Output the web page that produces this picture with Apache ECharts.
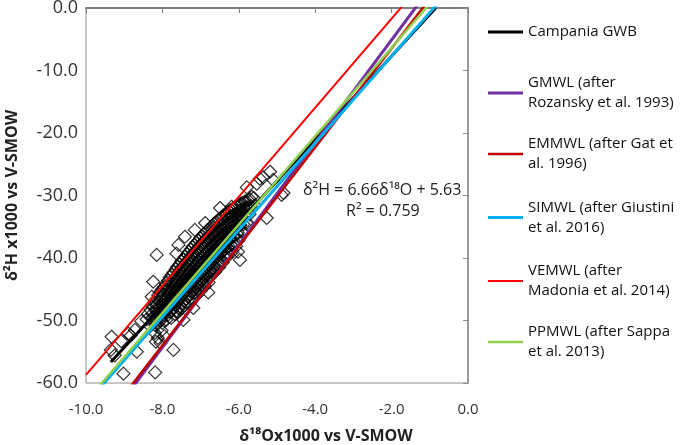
<!DOCTYPE html>
<html><head><meta charset="utf-8">
<script src="https://cdn.jsdelivr.net/npm/echarts@6/dist/echarts.min.js"></script>
<style>html,body{margin:0;padding:0;background:#fff}#c{width:685px;height:445px}</style>
</head><body><div id="c"></div>
<script>
// Sample points [δ18O, δ2H]
const samplePoints = [
 // sparse / outlying samples
 [-9.33,-52.6],[-9.35,-54.7],[-9.25,-55.6],[-9.02,-58.5],[-8.89,-52.1],[-8.83,-52.4],[-8.72,-51.5],[-8.67,-55.0],
 [-8.19,-58.3],[-8.15,-39.5],[-8.24,-43.8],[-8.28,-46.2],[-8.37,-48.9],[-7.71,-54.7],[-8.2,-52.0],[-8.12,-52.8],
 [-8.05,-53.6],[-7.95,-52.5],[-8.17,-53.4],[-8.02,-51.6],[-7.63,-39.3],[-7.45,-49.9],[-7.19,-48.0],[-6.80,-45.5],
 [-5.97,-40.3],[-6.02,-39.0],[-5.18,-26.2],[-5.36,-27.1],[-5.10,-27.5],[-4.88,-29.9],[-5.53,-28.1],[-5.79,-28.7],
 [-5.66,-30.2],[-5.27,-33.6],[-5.75,-34.7],[-5.45,-27.3],[-4.83,-29.6],[-9.08,-53.3],[-8.55,-50.1],
 [-7.15,-35.5],[-7.41,-36.6],[-7.58,-37.9],[-6.88,-34.4],[-6.49,-32.0],[-6.19,-31.8],[-8.41,-49.8],
 // dense cloud
 [-8.31,-48.3],[-8.28,-49.6],[-8.32,-50.9],
 [-8.21,-47.1],[-8.19,-48.3],[-8.22,-49.5],[-8.18,-50.8],
 [-8.11,-45.9],[-8.09,-47.0],[-8.12,-48.2],[-8.08,-49.4],[-8.13,-50.6],
 [-8.01,-45.0],[-7.99,-46.1],[-8.02,-47.3],[-7.98,-48.4],[-8.03,-49.5],[-8.0,-50.4],
 [-7.91,-44.1],[-7.89,-45.2],[-7.92,-46.4],[-7.88,-47.5],[-7.93,-48.7],[-7.9,-49.9],
 [-7.81,-43.1],[-7.79,-44.2],[-7.82,-45.3],[-7.78,-46.5],[-7.83,-47.6],[-7.8,-48.6],[-7.77,-49.6],
 [-7.71,-42.3],[-7.69,-43.4],[-7.72,-44.5],[-7.68,-45.6],[-7.73,-46.7],[-7.7,-47.9],[-7.67,-49.0],
 [-7.61,-41.4],[-7.59,-42.5],[-7.62,-43.6],[-7.58,-44.8],[-7.63,-45.9],[-7.6,-47.0],[-7.57,-48.1],[-7.62,-48.7],
 [-7.51,-40.5],[-7.49,-41.6],[-7.52,-42.7],[-7.48,-43.8],[-7.53,-45.0],[-7.5,-46.1],[-7.47,-47.2],[-7.52,-48.2],
 [-7.41,-39.8],[-7.39,-40.9],[-7.42,-42.0],[-7.38,-43.1],[-7.43,-44.2],[-7.4,-45.3],[-7.37,-46.5],[-7.42,-47.6],
 [-7.31,-39.0],[-7.29,-40.1],[-7.32,-41.2],[-7.28,-42.3],[-7.33,-43.4],[-7.3,-44.6],[-7.27,-45.8],[-7.32,-47.0],
 [-7.21,-38.2],[-7.19,-39.3],[-7.22,-40.4],[-7.18,-41.6],[-7.23,-42.7],[-7.2,-43.8],[-7.17,-45.0],[-7.22,-46.4],
 [-7.11,-37.5],[-7.09,-38.6],[-7.12,-39.7],[-7.08,-40.9],[-7.13,-42.0],[-7.1,-43.1],[-7.07,-44.3],[-7.12,-45.4],[-7.09,-45.9],
 [-7.01,-36.8],[-6.99,-37.9],[-7.02,-39.0],[-6.98,-40.2],[-7.03,-41.3],[-7.0,-42.4],[-6.97,-43.6],[-7.02,-44.7],[-6.99,-45.2],
 [-6.91,-36.1],[-6.89,-37.2],[-6.92,-38.3],[-6.88,-39.5],[-6.93,-40.6],[-6.9,-41.7],[-6.87,-42.9],[-6.92,-44.0],[-6.89,-44.5],
 [-6.81,-35.5],[-6.79,-36.6],[-6.82,-37.7],[-6.78,-38.9],[-6.83,-40.0],[-6.8,-41.1],[-6.77,-42.3],[-6.82,-43.4],[-6.79,-43.9],
 [-6.71,-34.9],[-6.69,-36.0],[-6.72,-37.1],[-6.68,-38.3],[-6.73,-39.4],[-6.7,-40.5],[-6.67,-41.7],[-6.72,-42.8],
 [-6.61,-34.3],[-6.59,-35.4],[-6.62,-36.5],[-6.58,-37.7],[-6.63,-38.8],[-6.6,-39.9],[-6.57,-41.1],[-6.62,-42.2],
 [-6.51,-33.8],[-6.49,-34.9],[-6.52,-36.0],[-6.48,-37.2],[-6.53,-38.3],[-6.5,-39.4],[-6.47,-40.6],[-6.52,-41.5],
 [-6.41,-33.2],[-6.39,-34.3],[-6.42,-35.4],[-6.38,-36.6],[-6.43,-37.7],[-6.4,-38.8],[-6.37,-39.9],[-6.42,-40.7],
 [-6.31,-32.7],[-6.29,-33.8],[-6.32,-34.9],[-6.28,-36.1],[-6.33,-37.2],[-6.3,-38.3],[-6.27,-39.3],[-6.32,-39.9],
 [-6.21,-32.3],[-6.19,-33.4],[-6.22,-34.5],[-6.18,-35.7],[-6.23,-36.8],[-6.2,-37.9],[-6.17,-39.0],
 [-6.11,-31.9],[-6.09,-33.0],[-6.12,-34.1],[-6.08,-35.3],[-6.13,-36.4],[-6.1,-37.5],[-6.07,-38.1],
 [-6.01,-31.4],[-5.99,-32.5],[-6.02,-33.6],[-5.98,-34.8],[-6.03,-35.9],[-6.0,-37.1],
 [-5.91,-31.2],[-5.89,-32.3],[-5.92,-33.4],[-5.88,-34.6],[-5.93,-35.8],
 [-5.81,-30.9],[-5.79,-32.0],[-5.82,-33.1],[-5.78,-34.3],
 [-5.71,-30.6],[-5.69,-31.7],[-5.72,-33.0],
 [-5.61,-30.4],[-5.59,-31.6],
 // more samples inside the cloud
 [-8.25,-47.7],[-8.26,-48.9],[-8.24,-50.1],
 [-8.15,-46.5],[-8.16,-47.6],[-8.14,-48.8],[-8.16,-50.0],
 [-8.05,-45.4],[-8.06,-46.5],[-8.04,-47.7],[-8.06,-48.9],[-8.04,-50.0],
 [-7.95,-44.6],[-7.96,-45.7],[-7.94,-46.9],[-7.96,-48.0],[-7.94,-49.2],
 [-7.85,-43.6],[-7.86,-44.7],[-7.84,-45.9],[-7.86,-47.0],[-7.84,-48.1],[-7.86,-49.1],
 [-7.75,-42.7],[-7.76,-43.8],[-7.74,-45.0],[-7.76,-46.1],[-7.74,-47.3],[-7.76,-48.4],
 [-7.65,-41.8],[-7.66,-43.0],[-7.64,-44.1],[-7.66,-45.2],[-7.64,-46.4],[-7.66,-47.5],[-7.64,-48.5],
 [-7.55,-41.0],[-7.56,-42.1],[-7.54,-43.2],[-7.56,-44.4],[-7.54,-45.5],[-7.56,-46.6],[-7.54,-47.7],
 [-7.45,-40.2],[-7.46,-41.3],[-7.44,-42.4],[-7.46,-43.5],[-7.44,-44.7],[-7.46,-45.8],[-7.44,-46.9],
 [-7.35,-39.4],[-7.36,-40.5],[-7.34,-41.7],[-7.36,-42.8],[-7.34,-43.9],[-7.36,-45.1],[-7.34,-46.2],
 [-7.25,-38.6],[-7.26,-39.7],[-7.24,-40.8],[-7.26,-42.0],[-7.24,-43.1],[-7.26,-44.2],[-7.24,-45.5],
 [-7.15,-37.9],[-7.16,-39.0],[-7.14,-40.1],[-7.16,-41.2],[-7.14,-42.4],[-7.16,-43.5],[-7.14,-44.7],[-7.16,-45.6],
 [-7.05,-37.2],[-7.06,-38.3],[-7.04,-39.4],[-7.06,-40.5],[-7.04,-41.7],[-7.06,-42.8],[-7.04,-44.0],[-7.06,-45.0],
 [-6.95,-36.5],[-6.96,-37.6],[-6.94,-38.7],[-6.96,-39.9],[-6.94,-41.0],[-6.96,-42.1],[-6.94,-43.3],[-6.96,-44.3],
 [-6.85,-35.8],[-6.86,-36.9],[-6.84,-38.0],[-6.86,-39.2],[-6.84,-40.3],[-6.86,-41.4],[-6.84,-42.6],[-6.86,-43.6],
 [-6.75,-35.2],[-6.76,-36.3],[-6.74,-37.4],[-6.76,-38.6],[-6.74,-39.7],[-6.76,-40.8],[-6.74,-42.0],[-6.76,-43.1],
 [-6.65,-34.6],[-6.66,-35.7],[-6.64,-36.8],[-6.66,-38.0],[-6.64,-39.1],[-6.66,-40.2],[-6.64,-41.4],[-6.66,-42.4],
 [-6.55,-34.0],[-6.56,-35.1],[-6.54,-36.3],[-6.56,-37.4],[-6.54,-38.5],[-6.56,-39.7],[-6.54,-40.8],
 [-6.45,-33.5],[-6.46,-34.6],[-6.44,-35.7],[-6.46,-36.9],[-6.44,-38.0],[-6.46,-39.1],[-6.44,-40.3],
 [-6.35,-33.0],[-6.36,-34.1],[-6.34,-35.2],[-6.36,-36.4],[-6.34,-37.5],[-6.36,-38.6],[-6.34,-39.6],
 [-6.25,-32.5],[-6.26,-33.6],[-6.24,-34.7],[-6.26,-35.9],[-6.24,-37.0],[-6.26,-38.1],
 [-6.15,-32.1],[-6.16,-33.2],[-6.14,-34.3],[-6.16,-35.5],[-6.14,-36.6],[-6.16,-37.7],
 [-6.05,-31.7],[-6.06,-32.8],[-6.04,-33.9],[-6.06,-35.0],[-6.04,-36.2],
 [-5.95,-31.3],[-5.96,-32.4],[-5.94,-33.5],[-5.96,-34.7],
 [-5.85,-31.0],[-5.86,-32.1],[-5.84,-33.3],
 [-5.75,-30.8],[-5.76,-31.9]
];
// Water lines: δ2H = slope·δ18O + intercept, drawn over an x-range
const lineNames = ['Campania GWB','GMWL (after\nRozansky et al. 1993)','EMMWL (after Gat et\nal. 1996)','SIMWL (after Giustini\net al. 2016)','VEMWL (after\nMadonia et al. 2014)','PPMWL (after Sappa\net al. 2013)'];
const lineSlopes = [6.66, 8.2, 7.92, 6.95, 7.125, 7.07];
const lineIntercepts = [5.63, 11.3, 9.39, 6.2, 12.55, 7.77];
const lineXStart = [-9.35, -10, -10, -10, -10, -10];
const lineXEnd = [-0.845, 0, 0, 0, 0, 0];
const lineColors = ['#000000','#7030A0','#C00000','#00B0F0','#FF0000','#92D050'];
const lineWidths = [3, 3, 2.5, 3, 2, 2.5];
const legendTops = [22, 63, 124, 187.5, 251, 312];
const xTicks = {min:-10, max:0, interval:2};
const yTicks = {min:-60, max:0, interval:10};

const chart = echarts.init(document.getElementById('c'));
const font = 'Open Sans';
const series = [{
  type:'scatter', data: samplePoints, symbol:'diamond', symbolSize:13, silent:true, large:false,
  itemStyle:{color:'rgba(255,255,255,0)', borderColor:'#000', borderWidth:1.2}, z:1
}];
lineNames.forEach((n,i)=>{
  const x0=lineXStart[i], x1=lineXEnd[i];
  series.push({
    type:'line', name:n, symbol:'none', z:2+i,
    data:[[x0, lineSlopes[i]*x0+lineIntercepts[i]],[x1, lineSlopes[i]*x1+lineIntercepts[i]]],
    lineStyle:{color:lineColors[i], width:lineWidths[i]}, itemStyle:{color:lineColors[i]}
  });
});
const legends = lineNames.map((n,i)=>({
  data:[{name:n, icon:'rect'}], left:488, top:legendTops[i], padding:0, itemWidth:35, itemHeight:lineWidths[i],
  selectedMode:false, orient:'vertical',
  textStyle:{fontFamily:font, fontSize:15, color:'#111', lineHeight:20,
    padding: n.indexOf('\n')>=0 ? [20,0,0,0] : 0}
}));
chart.setOption({
  animation:false,
  grid:{left:86, right:217, top:8, bottom:62, show:true, borderColor:'#8c8c8c', borderWidth:1,
    containLabel:false, outerBoundsMode:'none'},
  xAxis:{type:'value', min:xTicks.min, max:xTicks.max, interval:xTicks.interval,
    name:'δ¹⁸Ox1000 vs V-SMOW', nameLocation:'middle', nameGap:45,
    nameTextStyle:{fontFamily:font, fontWeight:'bold', fontSize:16, color:'#222', padding:[0,0,0,98]},
    axisLine:{lineStyle:{color:'#7f7f7f', width:2}},
    axisTick:{show:true, length:5, lineStyle:{color:'#7f7f7f'}},
    axisLabel:{fontFamily:font, fontSize:15, color:'#333', margin:19, formatter:v=>v.toFixed(1)},
    splitLine:{show:false}},
  yAxis:{type:'value', min:yTicks.min, max:yTicks.max, interval:yTicks.interval,
    name:'δ²H x1000 vs V-SMOW', nameLocation:'middle', nameGap:66, nameRotate:90,
    nameTextStyle:{fontFamily:font, fontWeight:'bold', fontSize:16, color:'#222'},
    axisLine:{show:true, lineStyle:{color:'#8c8c8c', width:1.5}},
    axisTick:{show:true, length:5, lineStyle:{color:'#8c8c8c'}},
    axisLabel:{fontFamily:font, fontSize:18, color:'#333', margin:8, formatter:v=>v.toFixed(1)},
    splitLine:{show:false}},
  legend: legends,
  graphic:[
    {type:'text', left:303, top:182, style:{text:'δ²H = 6.66δ¹⁸O + 5.63', font:'16px "Open Sans"', fill:'#222'}},
    {type:'text', left:346, top:203, style:{text:'R² = 0.759', font:'16px "Open Sans"', fill:'#222'}}
  ],
  series
});
</script></body></html>
